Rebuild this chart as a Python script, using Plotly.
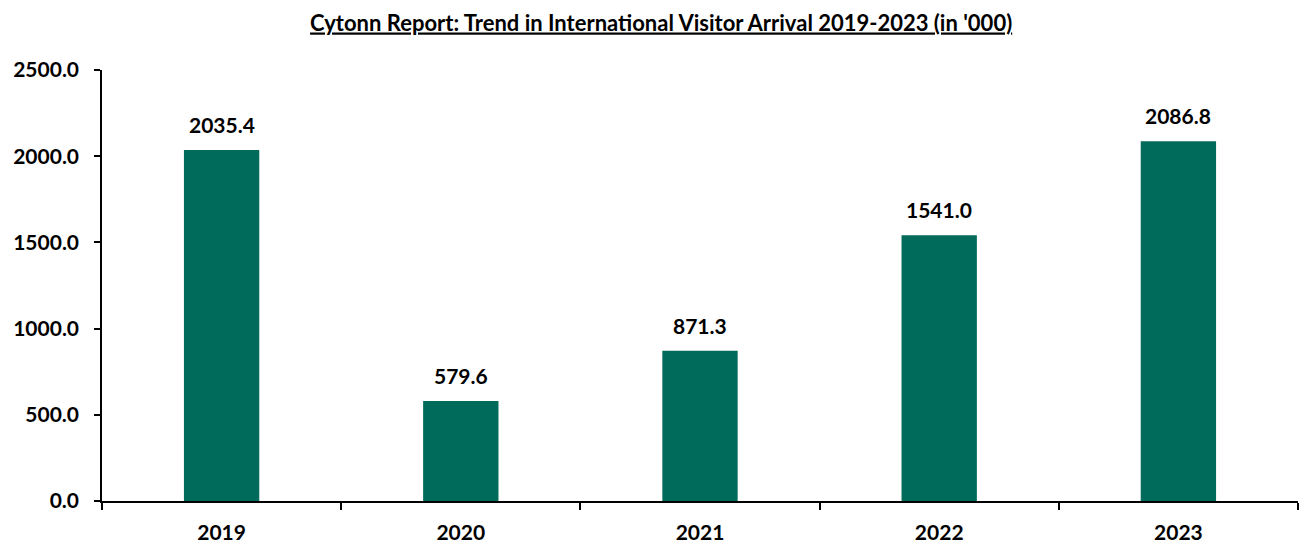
import plotly.graph_objects as go

years = ["2019", "2020", "2021", "2022", "2023"]
arrivals = [2035.4, 579.6, 871.3, 1541.0, 2086.8]

bar_color = "#006B5A"
font_family = "Lato, 'Open Sans', sans-serif"

fig = go.Figure()
fig.add_trace(go.Bar(
    x=years,
    y=arrivals,
    marker=dict(color=bar_color, line=dict(width=0)),
    width=0.315,
    hoverinfo="x+y",
))

# value labels above each bar (category axis positions are serial indices)
for i, v in enumerate(arrivals):
    fig.add_annotation(
        x=i, y=v, text=f"<b>{v:.1f}</b>",
        showarrow=False, yanchor="bottom", yshift=11,
        font=dict(family=font_family, size=21, color="#000000"),
    )

fig.update_layout(
    width=1304, height=543,
    paper_bgcolor="white", plot_bgcolor="white",
    margin=dict(l=102, r=6, t=70, b=42),
    showlegend=False,
    title=dict(
        text="<b><u>Cytonn Report: Trend in International Visitor Arrival 2019-2023 (in '000)</u></b>",
        x=0.507, xanchor="center", y=0.958, yanchor="middle",
        font=dict(family=font_family, size=22, color="#000000"),
    ),
    font=dict(family=font_family, color="#000000"),
)

fig.update_xaxes(
    type="category", automargin=False, range=[-0.5, len(years) - 0.5],
    showline=True, linecolor="#000000", linewidth=1.5,
    ticks="outside", tickson="boundaries", ticklen=7, tickcolor="#000000", tickwidth=1.5,
    tickfont=dict(family=font_family, size=21, color="#000000"),
    ticklabelstandoff=12, tickangle=0,
    showgrid=False,
)
fig.update_yaxes(
    range=[0, 2500], dtick=500, tickformat=".1f", automargin=False,
    showline=True, linecolor="#000000", linewidth=1.5,
    ticks="outside", ticklen=6, tickcolor="#000000", tickwidth=1.5,
    tickfont=dict(family=font_family, size=21, color="#000000"),
    ticklabelstandoff=11,
    showgrid=False, zeroline=False,
)
fig.update_xaxes(tickprefix="<b>", ticksuffix="</b>")
fig.update_yaxes(tickprefix="<b>", ticksuffix="</b>")

fig.write_html("out.html")
